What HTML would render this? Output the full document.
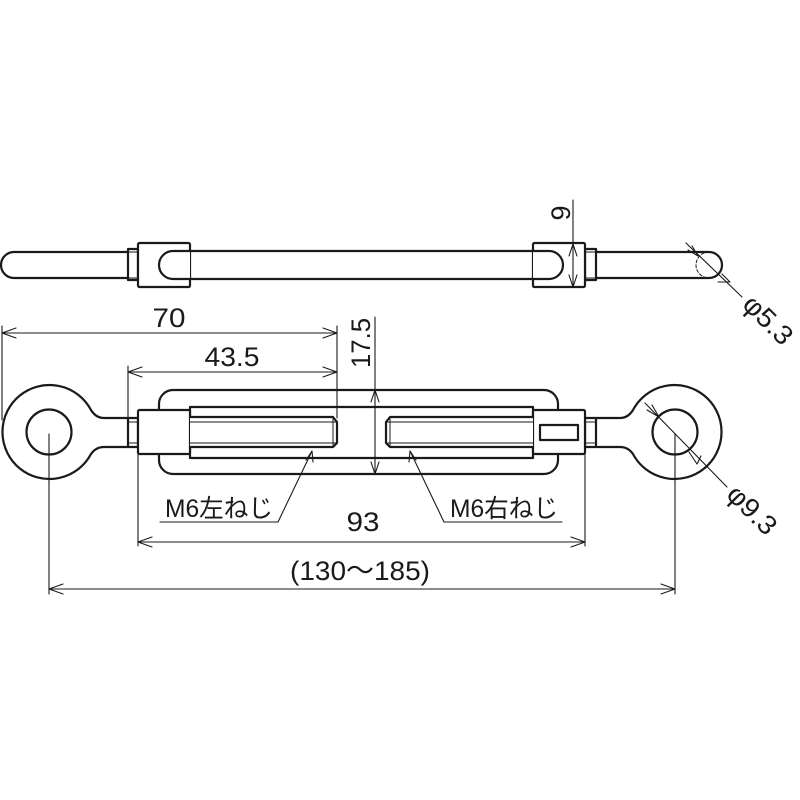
<!DOCTYPE html>
<html><head><meta charset="utf-8"><style>html,body{margin:0;padding:0;background:#fff}svg{display:block}</style></head>
<body>
<svg width="800" height="800" viewBox="0 0 800 800" xmlns="http://www.w3.org/2000/svg">
<g fill="none" stroke="#1a1a1a" stroke-linejoin="round" stroke-linecap="round">
<g stroke-width="2.2" fill="#fff">
<path d="M128,252 L14,252 A13 13 0 0 0 14,278 L128,278"/>
<rect x="128" y="249" width="10" height="31"/>
<path d="M596,252 L709,252 A13 13 0 0 1 709,278 L596,278"/>
<rect x="585" y="249" width="11" height="31"/>
<rect x="138" y="243" width="52" height="44" rx="1.5"/>
<rect x="533" y="243" width="52" height="44" rx="1.5"/>
<path d="M190,251 L173,251 A14 14 0 0 0 173,279 L190,279"/>
<path d="M533,251 L549,251 A14 14 0 0 1 549,279 L533,279"/>
<line x1="190" y1="251" x2="533" y2="251"/>
<line x1="190" y1="279" x2="533" y2="279"/>
</g>
<line x1="128" y1="252" x2="138" y2="252" stroke-width="1"/>
<line x1="128" y1="278" x2="138" y2="278" stroke-width="1"/>
<line x1="585" y1="252" x2="596" y2="252" stroke-width="1"/>
<line x1="585" y1="278" x2="596" y2="278" stroke-width="1"/>
<path d="M709,252 A13 13 0 0 0 709,278" stroke-width="1" stroke-dasharray="3,2"/>

<g stroke-width="2.2" fill="#fff">
<path d="M128,418 L104,418 Q96,418 91,410 A47 47 0 1 0 91,454 Q96,447 104,447 L128,447"/>
<circle cx="49" cy="432" r="22.5"/>
<path d="M596,418 L620,418 Q628,418 633,410 A47 47 0 1 1 633,454 Q628,447 620,447 L596,447"/>
<circle cx="675" cy="432" r="22.5"/>
<rect x="159" y="390" width="399" height="84" rx="14"/>
<rect x="190" y="407" width="343" height="51"/>
<rect x="128" y="418" width="10" height="29"/>
<rect x="585" y="418" width="11" height="29"/>
<rect x="138" y="410" width="52" height="44" rx="1.5"/>
<rect x="533" y="410" width="52" height="44" rx="1.5"/>
<rect x="540" y="425" width="38" height="15"/>
<path d="M190,417 L333,417 L337,422 L337,443 L333,447 L190,447"/>
<path d="M533,417 L390,417 L386,422 L386,443 L390,447 L533,447"/>
</g>
<g stroke-width="1">
<line x1="190" y1="422" x2="337" y2="422"/><line x1="190" y1="443" x2="337" y2="443"/>
<line x1="333" y1="417" x2="333" y2="447"/>
<line x1="386" y1="422" x2="533" y2="422"/><line x1="386" y1="443" x2="533" y2="443"/>
<line x1="390" y1="417" x2="390" y2="447"/>
<line x1="128" y1="422" x2="138" y2="422"/><line x1="128" y1="443" x2="138" y2="443"/>
<line x1="585" y1="422" x2="596" y2="422"/><line x1="585" y1="443" x2="596" y2="443"/>
</g>

<g stroke-width="1.1">
<line x1="573" y1="200" x2="573" y2="287"/>
<path d="M569,256 L573,244 L577,256 M569,275 L573,287 L577,275"/>
<line x1="686" y1="243" x2="742" y2="297"/>
<path d="M688,250 L698,256 L692,246 M722,274 L730,282 M718,282 L730,282"/>
<line x1="2" y1="333" x2="337" y2="333"/>
<path d="M16,328 L2,333 L16,338 M323,328 L337,333 L323,338"/>
<line x1="2" y1="326" x2="2" y2="420"/>
<line x1="337" y1="326" x2="337" y2="418"/>
<line x1="128" y1="372" x2="337" y2="372"/>
<path d="M142,367 L128,372 L142,377 M323,367 L337,372 L323,377"/>
<line x1="128" y1="366" x2="128" y2="418"/>
<line x1="375" y1="317" x2="375" y2="474"/>
<path d="M371,402 L375,390 L379,402 M371,462 L375,474 L379,462"/>
<line x1="138" y1="455" x2="138" y2="546"/>
<line x1="585" y1="455" x2="585" y2="546"/>
<line x1="138" y1="542" x2="585" y2="542"/>
<path d="M152,537 L138,542 L152,547 M571,537 L585,542 L571,547"/>
<line x1="49" y1="434" x2="49" y2="594"/>
<line x1="675" y1="434" x2="675" y2="594"/>
<line x1="49" y1="589" x2="675" y2="589"/>
<path d="M63,584 L49,589 L63,594 M661,584 L675,589 L661,594"/>
<line x1="645" y1="403" x2="727" y2="487"/>
<path d="M647,410 L659,417 L652,405 M689,452 L697,464 L701,456"/>
<path d="M160,522 L278,522 L312,451"/>
<path d="M306,460 L312,451 L313,462"/>
<path d="M562,522 L444,522 L410,451"/>
<path d="M409,462 L410,451 L416,460"/>
</g>
</g>
<g font-family="'Liberation Sans','Noto Sans CJK JP',sans-serif" fill="#1a1a1a" font-size="27">
<text x="169" y="327" text-anchor="middle" textLength="33" lengthAdjust="spacingAndGlyphs">70</text>
<text x="232" y="366" text-anchor="middle" textLength="55" lengthAdjust="spacingAndGlyphs">43.5</text>
<text transform="translate(370,343) rotate(-90)" text-anchor="middle" textLength="50" lengthAdjust="spacingAndGlyphs">17.5</text>
<text transform="translate(570,213) rotate(-90)" text-anchor="middle">9</text>
<text transform="translate(768,320) rotate(45)" text-anchor="middle" dy="9" textLength="58" lengthAdjust="spacingAndGlyphs">φ5.3</text>
<text transform="translate(752,510) rotate(45)" text-anchor="middle" dy="9" textLength="58" lengthAdjust="spacingAndGlyphs">φ9.3</text>
<text x="363" y="531" text-anchor="middle" textLength="33" lengthAdjust="spacingAndGlyphs">93</text>
<text x="360" y="580" text-anchor="middle" textLength="140" lengthAdjust="spacingAndGlyphs">(130～185)</text>
<text x="165" y="517" font-size="25" textLength="108" lengthAdjust="spacingAndGlyphs">M6左ねじ</text>
<text x="450" y="517" font-size="25" textLength="108" lengthAdjust="spacingAndGlyphs">M6右ねじ</text>
</g>
</svg>
</body></html>
